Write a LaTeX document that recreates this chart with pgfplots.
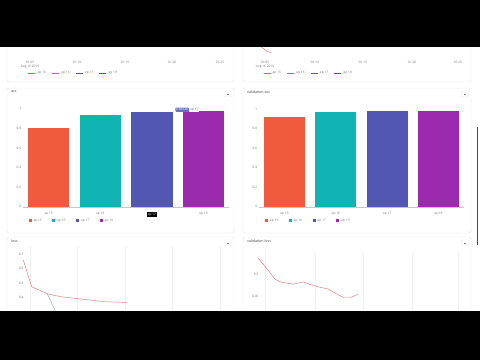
\documentclass[border=0pt]{standalone}
\usepackage{pgfplots}
\pgfplotsset{compat=1.18}
\usepackage{fontspec}
\setmainfont{Open Sans}
\definecolor{c1}{HTML}{F05A3D}
\definecolor{c2}{HTML}{12B4B3}
\definecolor{c3}{HTML}{5157B3}
\definecolor{c4}{HTML}{9B2AAF}
\definecolor{tk}{HTML}{707070}
\definecolor{tt}{HTML}{404040}
\definecolor{bd}{HTML}{E6E6E6}
\definecolor{ln}{HTML}{E7777A}
\definecolor{ln2}{HTML}{93AEB3}
\newcommand\tf{\fontsize{3.2}{3.9}\selectfont}
\newcommand\ttl{\fontsize{3.6}{4.2}\selectfont}
\pgfplotsset{
  dash/.style={scale only axis, /pgf/number format/assume math mode=true,
    tick label style={font=\tf, text=tk}, tick style={draw=none},
    yticklabel style={xshift=4pt}},
  barax/.style={dash, ybar, clip=false, ymin=0, ymax=1, xmin=-0.5, xmax=3.5,
    xtick={0,1,2,3}, ytick={0,0.2,0.4,0.6,0.8,1},
    axis x line=bottom, axis y line=left,
    x axis line style={draw=gray!45, -}, y axis line style={draw=none},
    legend columns=4,
    legend style={draw=none, fill=none, font=\tf, text=tk, anchor=west,
      /tikz/every even column/.append style={column sep=8.5pt}},
    legend image code/.code={\fill[##1] (0pt,-1.5pt) rectangle (3pt,1.5pt);}},
  lineax/.style={dash, xmin=0, xmax=21, axis line style={draw=none},
    xmajorgrids, grid style={draw=gray!12, line width=0.3pt}, xticklabels={}},
  topax/.style={dash, clip=false, xmin=0, xmax=21, ymin=0, ymax=1, hide y axis,
    axis x line*=bottom, x axis line style={draw=none},
    xticklabel style={align=center},
    xticklabels={{01:05\\Aug 16 2019},01:10,01:15,01:20,01:25},
    legend columns=4,
    legend style={draw=none, fill=none, font=\tf, text=tk, anchor=west,
      /tikz/every even column/.append style={column sep=4pt}},
    legend image code/.code={\draw[##1] (0pt,0pt) -- (7pt,0pt);}},
}
\begin{document}
\begin{tikzpicture}[x=1pt,y=1pt]
\useasboundingbox (0,0) rectangle (480,360);
\clip (0,0) rectangle (480,360);
\fill[white] (0,0) rectangle (480,360);
% panel frames
\foreach \xa/\xb in {7/234,243/471}{
  \draw[bd, line width=0.4pt, rounded corners=1.5pt] (\xa,278) rectangle (\xb,340);
  \draw[bd, line width=0.4pt, rounded corners=1.5pt] (\xa,127) rectangle (\xb,272);
  \draw[bd, line width=0.4pt, rounded corners=1.5pt] (\xa,10) rectangle (\xb,123);
}
% minus buttons
\foreach \cx/\cy in {228/266,465/266,228/117,465/117}{
  \draw[bd, fill=white, rounded corners=0.8pt] (\cx-3.5,\cy-3) rectangle (\cx+3.5,\cy+3);
  \draw[gray, line width=0.35pt] (\cx-1.2,\cy) -- (\cx+1.2,\cy);
}
% titles
\node[anchor=west, font=\ttl, text=tt, inner sep=0pt] at (11,268) {acc};
\node[anchor=west, font=\ttl, text=tt, inner sep=0pt] at (247,268) {validation acc};
\node[anchor=west, font=\ttl, text=tt, inner sep=0pt] at (11,119) {loss};
\node[anchor=west, font=\ttl, text=tt, inner sep=0pt] at (247,119) {validation loss};

% ---- top-left (partial) ----
\begin{axis}[topax, at={(23pt,302pt)}, anchor=south west, width=210pt, height=11pt,
  xtick={0.7,5.4,10.2,14.9,19.7}, legend style={at={(0.01,-1.36)}}]
\addlegendimage{c1, line width=0.4pt}
\addlegendimage{c2, line width=0.4pt}
\addlegendimage{c3, line width=0.4pt}
\addlegendimage{c4, line width=0.4pt}
\legend{ep 15, ep 16, ep 17, ep 19}
\end{axis}
% ---- top-right (partial) ----
\begin{axis}[topax, at={(258pt,302pt)}, anchor=south west, width=210pt, height=11pt,
  xtick={0.7,5.7,10.5,15.4,20.0}, legend style={at={(0.01,-1.36)}}]
\addplot[ln, line width=0.45pt, forget plot] coordinates {(0.0,1.6)(0.4,0.95)(0.9,0.6)(1.3,0.5)};
\addlegendimage{c1, line width=0.4pt}
\addlegendimage{c2, line width=0.4pt}
\addlegendimage{c3, line width=0.4pt}
\addlegendimage{c4, line width=0.4pt}
\legend{ep 15, ep 16, ep 17, ep 19}
\end{axis}

% ---- acc ----
\begin{axis}[barax, at={(22.9pt,153.3pt)}, anchor=south west, width=206.4pt, height=98pt,
  xticklabels={ep 15,ep 16,{\setlength{\fboxsep}{0.8pt}\colorbox{black}{\textcolor{white}{ep 17}}},ep 19},
  legend style={at={(0.012,-0.145)}}]
\addplot[fill=c1, draw=none, bar width=0.8, bar shift=0pt] coordinates {(0,0.806)};
\addplot[fill=c2, draw=none, bar width=0.8, bar shift=0pt] coordinates {(1,0.936)};
\addplot[fill=c3, draw=none, bar width=0.8, bar shift=0pt] coordinates {(2,0.966)};
\addplot[fill=c4, draw=none, bar width=0.8, bar shift=0pt] coordinates {(3,0.980)};
\legend{ep 15, ep 16, ep 17, ep 19}
\node[fill=c3!85, text=white, font=\tf, rounded corners=1pt, inner sep=0.9pt, anchor=west] (tip) at (axis cs:2.45,0.99) {0.96636};
\node[fill=white, text=c3, font=\tf, inner sep=0.9pt, anchor=west] at (tip.east) {ep 17};
\end{axis}

% ---- validation acc ----
\begin{axis}[barax, at={(258.9pt,153.3pt)}, anchor=south west, width=205.2pt, height=97.7pt,
  xticklabels={ep 15,ep 16,ep 17,ep 19},
  legend style={at={(0.015,-0.146)}}]
\addplot[fill=c1, draw=none, bar width=0.8, bar shift=0pt] coordinates {(0,0.915)};
\addplot[fill=c2, draw=none, bar width=0.8, bar shift=0pt] coordinates {(1,0.969)};
\addplot[fill=c3, draw=none, bar width=0.8, bar shift=0pt] coordinates {(2,0.980)};
\addplot[fill=c4, draw=none, bar width=0.8, bar shift=0pt] coordinates {(3,0.976)};
\legend{ep 15, ep 16, ep 17, ep 19}
\end{axis}

% ---- loss ----
\begin{axis}[lineax, at={(23pt,19.7pt)}, anchor=south west, width=210pt, height=93.2pt,
  ymin=0.1, ymax=0.75, xtick={0.7,5.4,10.2,14.9,19.7}, ytick={0.4,0.5,0.6,0.7}]
\addplot[ln, line width=0.45pt] coordinates {(0.03,0.660)(0.87,0.473)(2.53,0.422)(3.87,0.403)(8.2,0.369)(10.37,0.364)};
\addplot[ln2, line width=0.45pt] coordinates {(2.4,0.428)(3.2,0.310)(4.2,0.150)};
\end{axis}

% ---- validation loss ----
\begin{axis}[lineax, at={(258pt,41.1pt)}, anchor=south west, width=210pt, height=66.9pt,
  ymin=0.4, ymax=0.55, xtick={0.7,5.7,10.5,15.4,20.0}, ytick={0.45,0.5},
  yticklabel style={/pgf/number format/fixed}]
\addplot[ln, line width=0.45pt] coordinates {(0.03,0.536)(0.87,0.513)(1.7,0.489)(2.37,0.482)(3.53,0.478)(4.53,0.483)(5.37,0.476)(6.2,0.471)(7.03,0.467)(7.87,0.456)(8.53,0.448)(9.2,0.448)(10.03,0.455)};
\end{axis}

% scrollbar
\draw[line width=1.3pt, gray!60!black] (477.5,233) -- (477.5,115);
% letterbox bars
\fill[black] (0,313) rectangle (480,360);
\fill[black] (0,0) rectangle (480,49);
\end{tikzpicture}
\end{document}
